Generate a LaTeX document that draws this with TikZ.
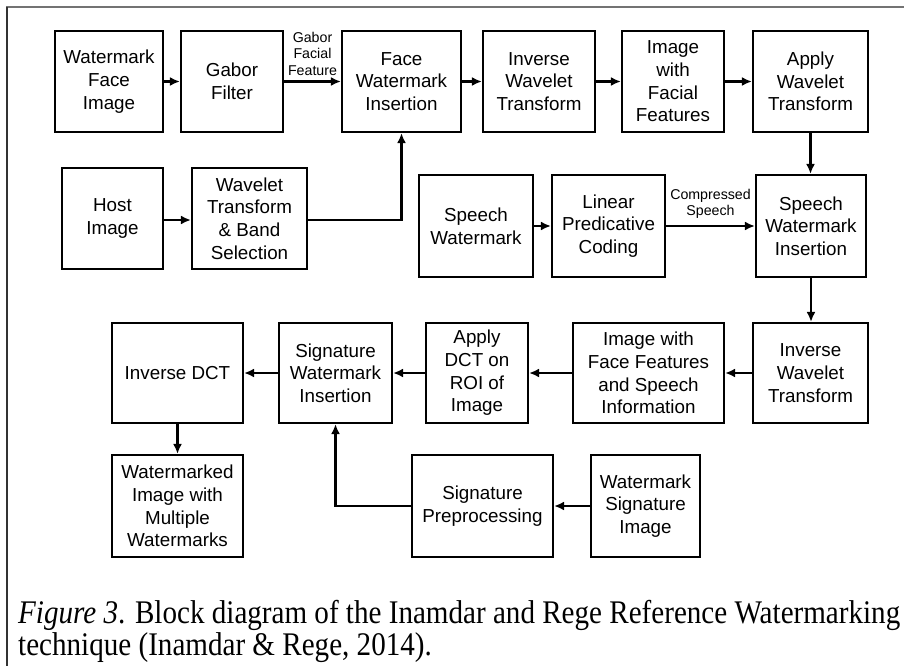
\documentclass[tikz,border=0pt]{standalone}
\usepackage{fontspec}
\setmainfont{Liberation Sans}
\newfontfamily\capfont{Liberation Serif}
\usetikzlibrary{arrows.meta}
\newsavebox{\caplineA}
\newsavebox{\caplineB}
\begin{document}
\sbox{\caplineA}{\capfont\fontsize{33}{33}\selectfont\textit{Figure 3}. Block diagram of the Inamdar and Rege Reference Watermarking}%
\sbox{\caplineB}{\capfont\fontsize{33}{33}\selectfont technique (Inamdar \& Rege, 2014).}%
\pgfmathsetmacro{\capscale}{882/\the\wd\caplineA}%
\begin{tikzpicture}[x=1pt,y=-1pt,
  blk/.style={draw=black, line width=2.2pt, rectangle, align=center, inner sep=1pt,
    font=\fontsize{18.8}{22.7}\selectfont},
  flow/.style={line width=2.6pt, -{Latex[length=10pt,width=9pt]}},
  lbl/.style={align=center, inner sep=0pt, font=\fontsize{14.2}{16.5}\selectfont},
  frame/.style={line width=2pt}]
\useasboundingbox (0,0) rectangle (904,666);
% outer frame
\draw[frame, draw=black!55] (6,7.5) -- (904,7.5);
\draw[frame, draw=black!80] (6.5,7) -- (6.5,666);

% top row
\node[blk, minimum width=108pt, minimum height=101pt] (wfi) at (109,81.5) {Watermark\\Face\\Image};
\node[blk, minimum width=102pt, minimum height=101pt] (gab) at (232,81.5) {Gabor\\Filter};
\node[blk, minimum width=119pt, minimum height=101pt] (fwi) at (401.5,81.5) {Face\\Watermark\\Insertion};
\node[blk, minimum width=112pt, minimum height=101pt] (iwt) at (539,81.5) {Inverse\\Wavelet\\Transform};
\node[blk, minimum width=102pt, minimum height=101pt] (iff) at (673,81.5) {Image\\with\\Facial\\Features};
\node[blk, minimum width=115pt, minimum height=101pt] (awt) at (810.5,81.5) {Apply\\Wavelet\\Transform};

% second row
\node[blk, minimum width=101pt, minimum height=101pt] (host) at (112.5,218.5) {Host\\Image};
\node[blk, minimum width=115pt, minimum height=101pt] (wtb) at (249.5,218.5) {Wavelet\\Transform\\\&\ Band\\Selection};
\node[blk, minimum width=114pt, minimum height=102pt] (sw) at (476,226) {Speech\\Watermark};
\node[blk, minimum width=113pt, minimum height=102pt] (lpc) at (608.5,226) {Linear\\Predicative\\Coding};
\node[blk, minimum width=110pt, minimum height=102pt] (swi) at (811,226) {Speech\\Watermark\\Insertion};

% third row
\node[blk, minimum width=131pt, minimum height=100pt] (idct) at (177.5,373) {Inverse DCT};
\node[blk, minimum width=113pt, minimum height=100pt] (sgwi) at (335.5,373) {Signature\\Watermark\\Insertion};
\node[blk, minimum width=102pt, minimum height=100pt] (adct) at (477,373) {Apply\\DCT on\\ROI of\\Image};
\node[blk, minimum width=151pt, minimum height=100pt] (iffs) at (648.5,373) {Image with\\Face Features\\and Speech\\Information};
\node[blk, minimum width=115pt, minimum height=100pt] (iwtb) at (810.5,373) {Inverse\\Wavelet\\Transform};

% bottom row
\node[blk, minimum width=131pt, minimum height=102pt] (wmi) at (177.5,506) {Watermarked\\Image with\\Multiple\\Watermarks};
\node[blk, minimum width=141pt, minimum height=102pt] (sp) at (482.5,506) {Signature\\Preprocessing};
\node[blk, minimum width=109pt, minimum height=102pt] (wsi) at (645.5,506) {Watermark\\Signature\\Image};

% connectors
\draw[flow] (wfi) -- (gab);
\draw[flow] (gab) -- node[lbl, above=5pt] (gff) {Gabor\\Facial\\Feature} (fwi);
\draw[flow] (fwi) -- (iwt);
\draw[flow] (iwt) -- (iff);
\draw[flow] (iff) -- (awt);
\draw[flow] (awt.south) -- (awt.south |- swi.north);
\draw[flow] (host.east |- 0,220) -- (wtb.west |- 0,220);
\draw[flow] (wtb.east |- 0,220) -| (fwi.south);
\draw[flow] (sw) -- (lpc);
\draw[flow] (lpc) -- node[lbl, above=6pt] (cs) {Compressed\\Speech} (swi);
\draw[flow] (swi.south) -- (swi.south |- iwtb.north);
\draw[flow] (iwtb) -- (iffs);
\draw[flow] (iffs) -- (adct);
\draw[flow] (adct) -- (sgwi);
\draw[flow] (sgwi) -- (idct);
\draw[flow] (idct.south |- 0,423) -- (wmi.north);
\draw[flow] (wsi) -- (sp);
\draw[flow] (sp.west) -| (sgwi.south);

% caption
\node[anchor=base west, inner sep=0pt] (cap1) at (18,623) {\scalebox{\capscale}[1]{\usebox{\caplineA}}};
\node[anchor=base west, inner sep=0pt] (cap2) at (18,655) {\scalebox{\capscale}[1]{\usebox{\caplineB}}};
\end{tikzpicture}
\end{document}
